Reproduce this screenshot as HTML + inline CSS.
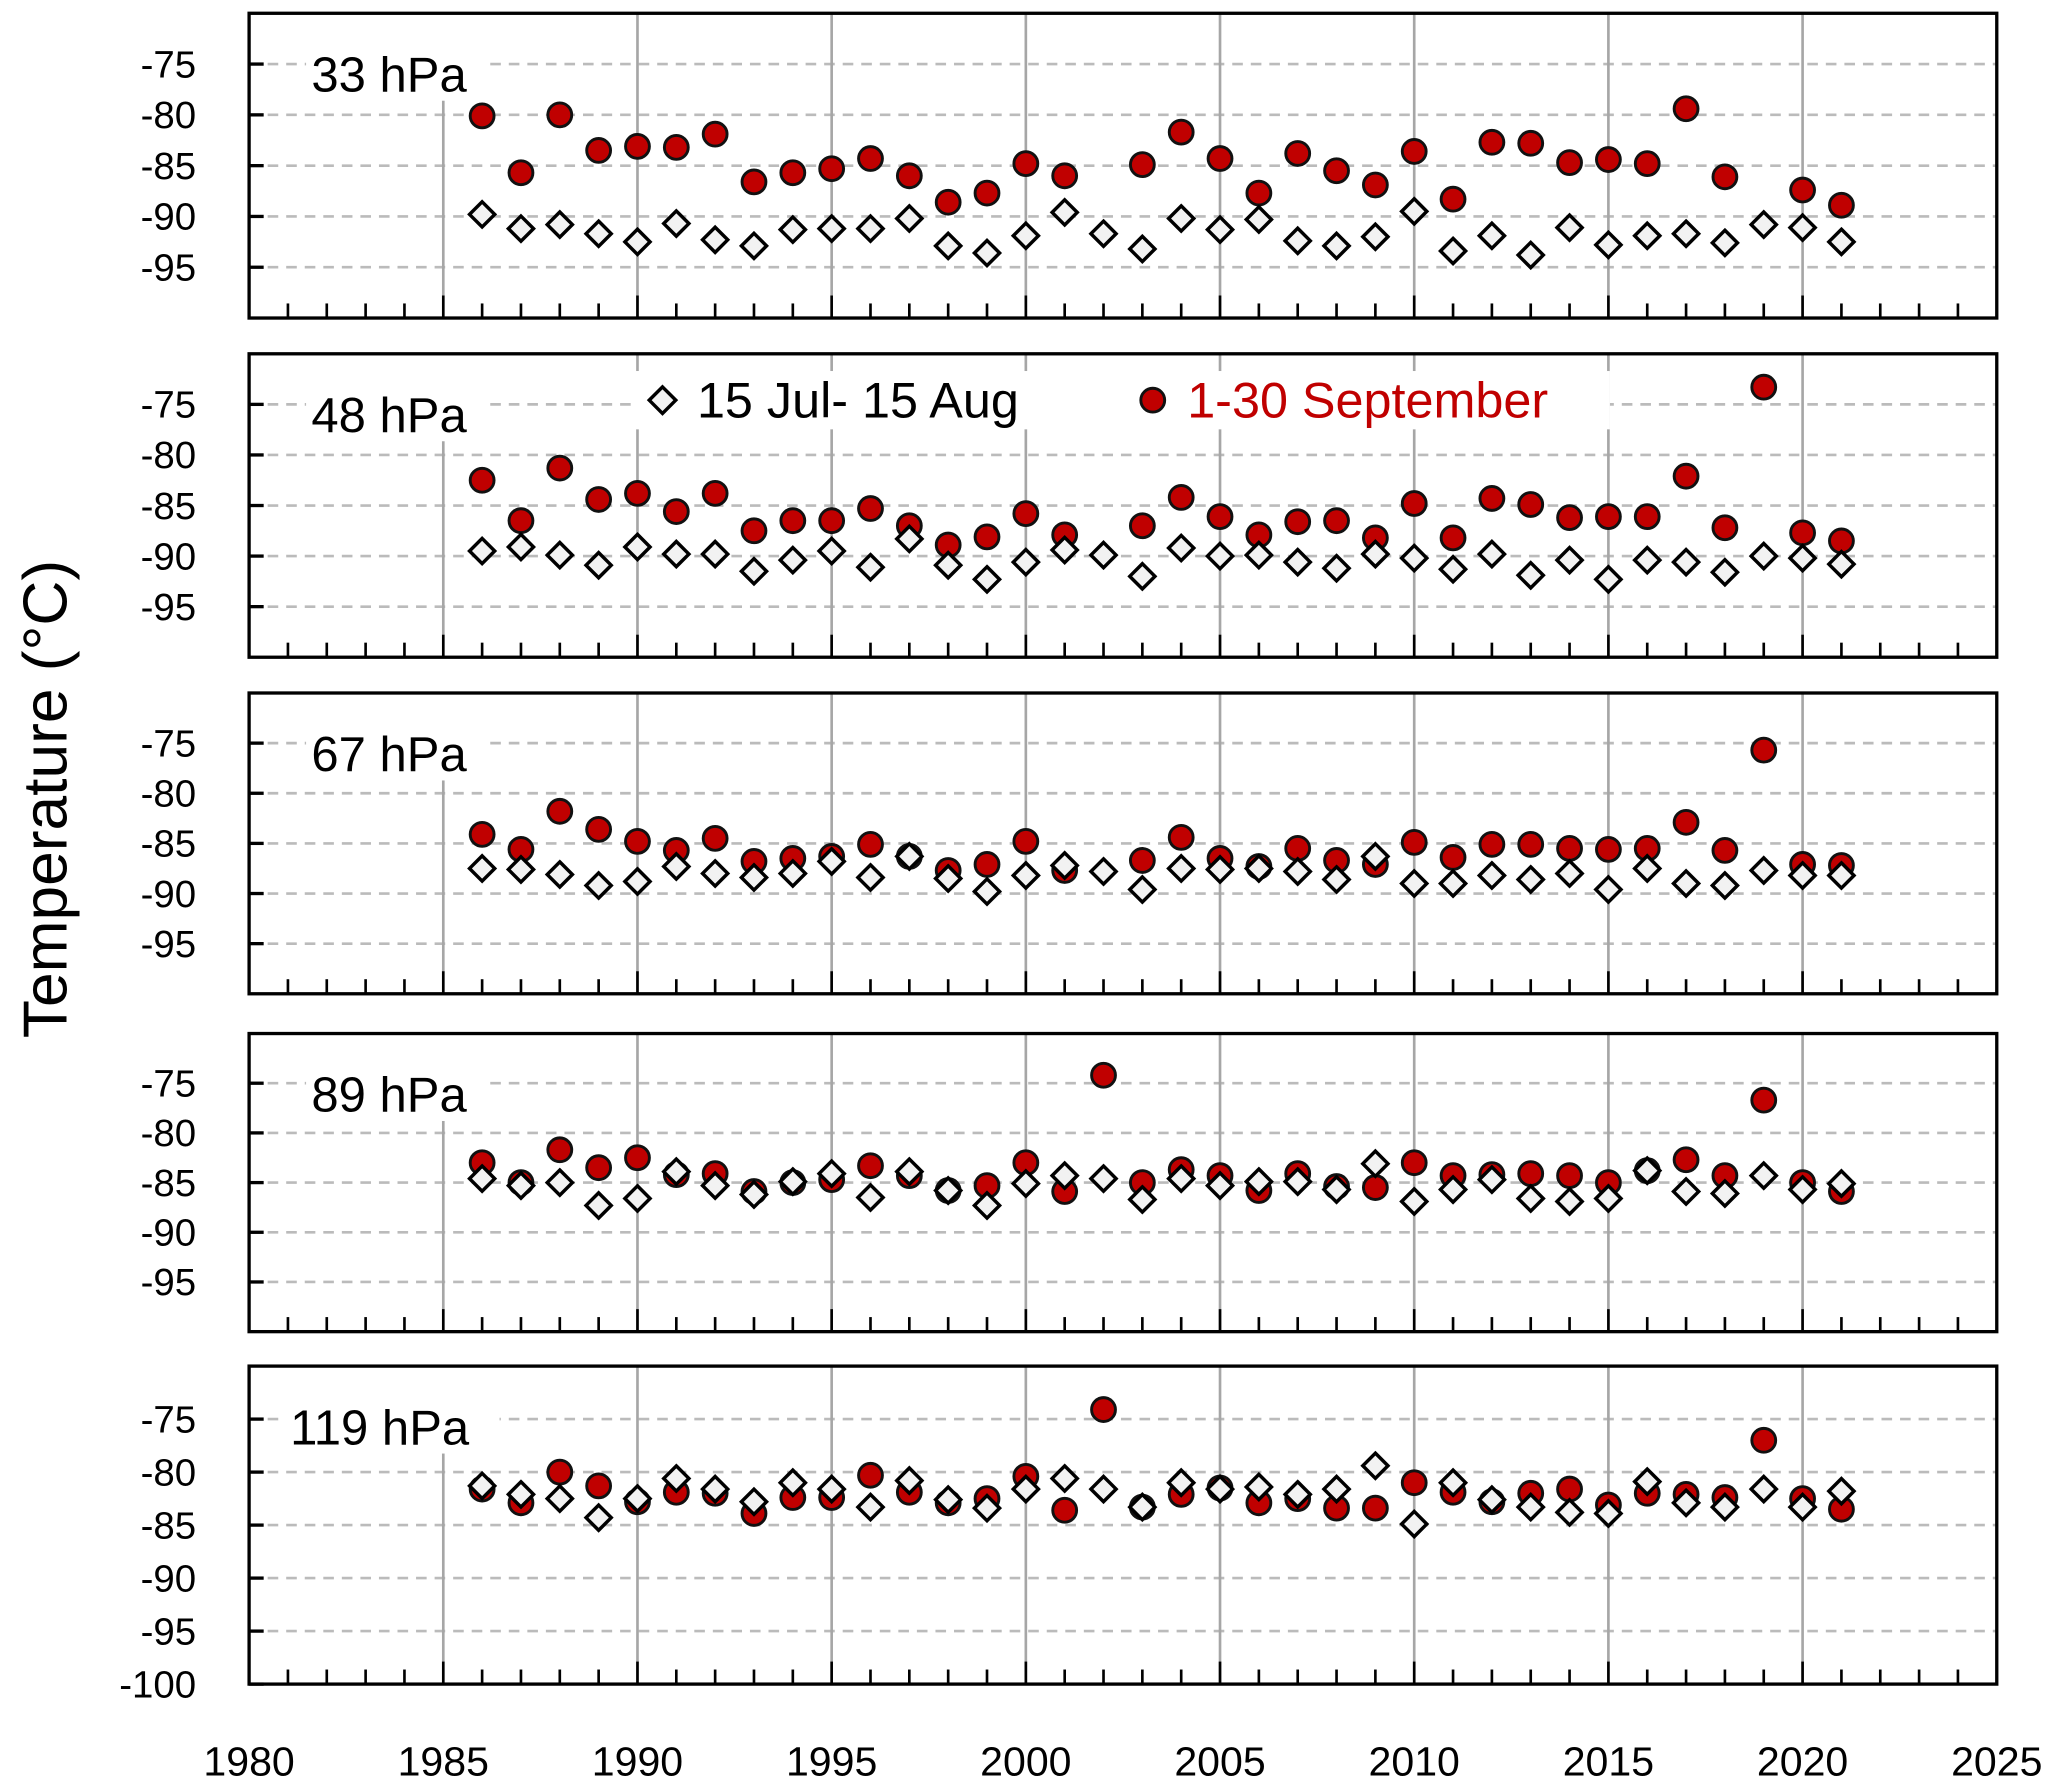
<!DOCTYPE html>
<html><head><meta charset="utf-8"><style>
html,body{margin:0;padding:0;background:#fff;}
svg{display:block;font-family:"Liberation Sans","DejaVu Sans",sans-serif;}
</style></head><body>
<svg id="chart" width="2067" height="1779" viewBox="0 0 1560 1342.6" xmlns="http://www.w3.org/2000/svg">
<rect x="0" y="0" width="1560" height="1343" fill="#fff"/>
<text x="0" y="0" transform="translate(50,603) rotate(-90)" text-anchor="middle" font-size="47" fill="#000">Temperature (°C)</text>
<g id="root"></g>
</svg>
<script>
const years = [1986,1987,1988,1989,1990,1991,1992,1993,1994,1995,1996,1997,1998,1999,2000,2001,2002,2003,2004,2005,2006,2007,2008,2009,2010,2011,2012,2013,2014,2015,2016,2017,2018,2019,2020,2021];
const panelLabels = ["33 hPa","48 hPa","67 hPa","89 hPa","119 hPa"];
const yTicks = [-75,-80,-85,-90,-95,-100];
const xTicks = [1980,1985,1990,1995,2000,2005,2010,2015,2020,2025];
const sep33 = [-80.1,-85.7,-80,-83.5,-83.1,-83.2,-81.9,-86.6,-85.7,-85.3,-84.3,-86,-88.6,-87.7,-84.8,-86,null,-84.9,-81.7,-84.3,-87.7,-83.8,-85.5,-86.9,-83.6,-88.3,-82.7,-82.8,-84.7,-84.4,-84.8,-79.4,-86.1,null,-87.4,-88.9];
const jul33 = [-89.8,-91.2,-90.8,-91.7,-92.5,-90.7,-92.3,-92.9,-91.3,-91.2,-91.2,-90.2,-92.9,-93.6,-91.9,-89.6,-91.7,-93.2,-90.2,-91.3,-90.3,-92.4,-92.9,-92,-89.5,-93.4,-91.9,-93.8,-91.1,-92.8,-91.9,-91.7,-92.6,-90.8,-91.1,-92.5];
const sep48 = [-82.5,-86.5,-81.3,-84.4,-83.8,-85.6,-83.8,-87.5,-86.5,-86.5,-85.3,-87,-88.9,-88.1,-85.8,-87.9,null,-87,-84.2,-86.1,-87.9,-86.6,-86.5,-88.2,-84.8,-88.2,-84.3,-84.9,-86.2,-86.1,-86.1,-82.1,-87.2,-73.3,-87.7,-88.5];
const jul48 = [-89.5,-89.1,-89.9,-90.9,-89.1,-89.8,-89.8,-91.5,-90.4,-89.5,-91.1,-88.3,-90.9,-92.3,-90.6,-89.4,-89.9,-92,-89.2,-90,-89.9,-90.6,-91.2,-89.8,-90.2,-91.3,-89.8,-91.9,-90.4,-92.3,-90.4,-90.6,-91.6,-90,-90.2,-90.8];
const sep67 = [-84.1,-85.6,-81.8,-83.6,-84.8,-85.7,-84.5,-86.8,-86.5,-86.3,-85.1,-86.3,-87.7,-87.1,-84.8,-87.7,null,-86.7,-84.4,-86.5,-87.3,-85.5,-86.7,-87.1,-84.9,-86.4,-85.1,-85.1,-85.5,-85.6,-85.5,-82.9,-85.7,-75.7,-87.1,-87.2];
const jul67 = [-87.5,-87.6,-88.1,-89.2,-88.8,-87.3,-88,-88.4,-88,-86.8,-88.4,-86.3,-88.5,-89.8,-88.2,-87.2,-87.8,-89.6,-87.5,-87.6,-87.5,-87.8,-88.6,-86.3,-89,-89,-88.2,-88.6,-88,-89.6,-87.5,-89,-89.2,-87.7,-88.2,-88.2];
const sep89 = [-83,-85,-81.7,-83.5,-82.5,-84.2,-84.1,-85.9,-85,-84.7,-83.3,-84.3,-85.8,-85.3,-83,-85.9,-74.2,-85,-83.7,-84.3,-85.8,-84.1,-85.4,-85.5,-83,-84.3,-84.2,-84.1,-84.3,-85,-83.8,-82.7,-84.3,-76.7,-85,-85.9];
const jul89 = [-84.6,-85.3,-85,-87.3,-86.6,-83.9,-85.3,-86.2,-84.9,-84.1,-86.5,-83.9,-85.8,-87.3,-85.1,-84.3,-84.6,-86.7,-84.6,-85.3,-84.9,-84.9,-85.7,-83.1,-86.9,-85.7,-84.7,-86.6,-86.9,-86.6,-83.8,-85.9,-86.1,-84.3,-85.7,-85.1];
const sep119 = [-81.6,-82.9,-80,-81.3,-82.8,-81.9,-82,-83.9,-82.4,-82.4,-80.3,-81.9,-82.9,-82.5,-80.4,-83.6,-74.1,-83.3,-82.1,-81.5,-82.9,-82.5,-83.4,-83.4,-81,-81.9,-82.8,-82,-81.6,-83.1,-82,-82.1,-82.4,-77,-82.5,-83.5];
const jul119 = [-81.3,-82.1,-82.5,-84.3,-82.5,-80.6,-81.6,-82.8,-81,-81.6,-83.3,-80.8,-82.6,-83.4,-81.6,-80.6,-81.6,-83.3,-81,-81.6,-81.4,-82.1,-81.6,-79.4,-84.9,-81,-82.6,-83.3,-83.8,-83.9,-80.9,-82.9,-83.3,-81.6,-83.3,-81.8];
const sepSeries = [sep33,sep48,sep67,sep89,sep119];
const julSeries = [jul33,jul48,jul67,jul89,jul119];

const NS="http://www.w3.org/2000/svg";
const root=document.getElementById('root');
function mk(tag,attrs,parent){const e=document.createElementNS(NS,tag);for(const k in attrs)e.setAttribute(k,attrs[k]);(parent||root).appendChild(e);return e;}
const X0=188,X1=1507,xMin=1980,xMax=2025;
function xs(v){return X0+(v-xMin)/(xMax-xMin)*(X1-X0);}
const panels=[[10,240],[267,496],[523,750],[780,1005],[1031,1271]];
const yMax=-70,yMin=-100;

panels.forEach((p,pi)=>{
  const top=p[0],bot=p[1];
  const ys=v=>top+(yMax-v)/(yMax-yMin)*(bot-top);
  const g=mk('g',{});
  
  
  yTicks.forEach(t=>{
    if(t===-100) return;
    const l=mk('line',{x1:X0,x2:X1,y1:ys(t),y2:ys(t),stroke:'#bbb','stroke-width':2,'stroke-dasharray':'8,6'},g);
    
    
  });
  xTicks.forEach(t=>{
    if(t===1980||t===2025) return;
    const y1 = t===1985 ? top+62 : top;
    const l=mk('line',{x1:xs(t),x2:xs(t),y1:y1,y2:bot,stroke:'#a6a6a6','stroke-width':2},g);
    
    
  });
  const lx = pi===4?219:235;
  const bg=mk('rect',{x:lx-4,y:top+26,width:pi===4?162:138,height:40,fill:'#fff'},g);
  
  
  const lt=mk('text',{x:lx,y:top+59,'font-size':37,fill:'#000'},g);
  lt.textContent=panelLabels[pi];
  
  
  yTicks.forEach(t=>{
    if(t===-100 && pi!==4) return;
    const tk=mk('line',{x1:X0,x2:X0+11,y1:ys(t),y2:ys(t),stroke:'#000','stroke-width':2.5},g);
    
    
    const tx=mk('text',{x:148,y:ys(t)+10,'font-size':29,'text-anchor':'end',fill:'#000'},g);
    tx.textContent=String(t);
    
    
  });
  for(let yr=1981;yr<2025;yr++){
    const major=yr%5===0;
    const tk=mk('line',{x1:xs(yr),x2:xs(yr),y1:bot,y2:bot-(major?17:11),stroke:'#000','stroke-width':2},g);
    
    
  }
  sepSeries[pi].forEach((v,i)=>{
    if(v===null) return;
    const c=mk('circle',{cx:xs(years[i]),cy:ys(v),r:9,fill:'#c00000',stroke:'#111','stroke-width':2.2},g);
    
    
  });
  julSeries[pi].forEach((v,i)=>{
    if(v===null) return;
    const cx=xs(years[i]),cy=ys(v),s=9.5;
    const d=mk('polygon',{points:`${cx},${cy-s} ${cx+s},${cy} ${cx},${cy+s} ${cx-s},${cy}`,fill:'#f2f2f2',stroke:'#000','stroke-width':2.6},g);
    
    
  });
  const fr=mk('rect',{x:X0,y:top,width:X1-X0,height:bot-top,fill:'none',stroke:'#000','stroke-width':2.5},g);
  
  
});
xTicks.forEach(t=>{
  const tx=mk('text',{x:xs(t),y:1340,'font-size':31,'text-anchor':'middle',fill:'#000'});
  tx.textContent=String(t);
  
  
});
const lg=mk('g',{});


const lbg=mk('rect',{x:480,y:280,width:735,height:44,fill:'#fff'},lg);


const ld=mk('polygon',{points:'500,292 510,302 500,312 490,302',fill:'#f2f2f2',stroke:'#000','stroke-width':2.6},lg);


const lt1=mk('text',{x:526,y:315,'font-size':38,fill:'#000'},lg);
lt1.textContent='15 Jul- 15 Aug';


const lc=mk('circle',{cx:870,cy:302,r:9,fill:'#c00000',stroke:'#111','stroke-width':2.2},lg);


const lt2=mk('text',{x:896,y:315,'font-size':38,fill:'#c00000'},lg);
lt2.textContent='1-30 September';


</script>
</body></html>
